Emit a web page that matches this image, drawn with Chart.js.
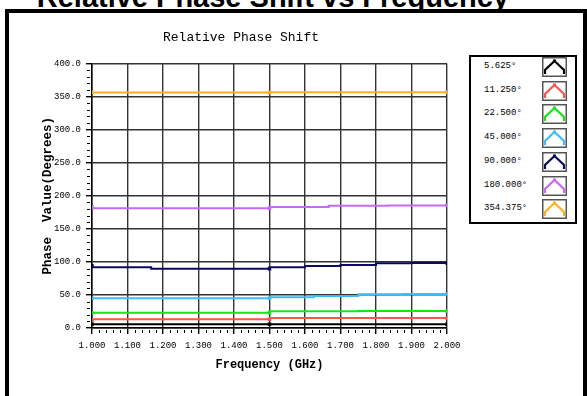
<!DOCTYPE html>
<html>
<head>
<meta charset="utf-8">
<script src="https://cdn.jsdelivr.net/npm/chart.js@4.4.1/dist/chart.umd.min.js"></script>
<style>
  body { margin: 0; background: #fff; width: 587px; height: 396px; overflow: hidden; position: relative; }
  #bigTitle { position: absolute; top: -17px; right: 78px; white-space: nowrap;
    font: bold 29px "Liberation Sans", Arial, sans-serif; line-height: 29px; color: #000; }
  #frame { position: absolute; left: 5px; top: 9px; width: 574px; height: 420px;
    border: 4px solid #000; }
  #chart { position: absolute; left: 0; top: 0; }
  #legend { position: absolute; left: 469px; top: 55px; width: 104px; height: 165px;
    border: 2px solid #000; background: #fff; }
  .row { position: absolute; left: 0; width: 104px; height: 20px; }
  .row span { position: absolute; left: 13px; top: 4px; font: 9px "Liberation Mono", monospace; color: #000; }
  .row svg { position: absolute; left: 71px; top: 0; }
</style>
</head>
<body>
<div id="bigTitle">Relative Phase Shift vs Frequency</div>
<div id="frame"></div>
<canvas id="chart" width="587" height="396"></canvas>
<div id="legend"></div>
<script>
// ===================================
// Relative Phase Shift vs Frequency
// ===================================

const seriesNames = ['5.625°', '11.250°', '22.500°', '45.000°', '90.000°', '180.000°', '354.375°'];
const seriesColors = ['#000000', '#ff5252', '#16e616', '#3cbdf8', '#0a0a62', '#c868f6', '#ffb022'];

// frequency (GHz) / phase (degrees) pairs
const freq5 = [1.0, 1.5, 2.0];
const phase5 = [5.6, 5.6, 5.8];
const freq11 = [1.0, 1.5, 2.0];
const phase11 = [11.0, 13.2, 15.0];
const freq22 = [1.0, 1.5, 1.75, 2.0];
const phase22 = [23.1, 23.1, 25.3, 25.6];
const freq45 = [1.0, 1.5, 1.625, 1.75, 1.875, 2.0];
const phase45 = [44.9, 44.9, 46.4, 48.4, 51.0, 51.4];
const freq90 = [1.0, 1.1667, 1.3333, 1.5, 1.6, 1.7, 1.8, 1.9, 2.0];
const phase90 = [94.2, 91.8, 89.7, 89.7, 91.8, 93.8, 95.3, 97.9, 98.2];
const freq180 = [1.0, 1.25, 1.5, 1.6667, 1.8333, 2.0];
const phase180 = [183.0, 181.0, 181.0, 183.0, 185.0, 185.5];
const freq354 = [1.0, 1.5, 2.0];
const phase354 = [356.5, 356.3, 356.5];

const freqSets = [freq5, freq11, freq22, freq45, freq90, freq180, freq354];
const phaseSets = [phase5, phase11, phase22, phase45, phase90, phase180, phase354];

// markers drawn only at these frequencies
const markerFreqs = [1.0, 1.5, 2.0];

// tick values
const xTicks = [1.0, 1.1, 1.2, 1.3, 1.4, 1.5, 1.6, 1.7, 1.8, 1.9, 2.0];
const yTicks = [0, 50, 100, 150, 200, 250, 300, 350, 400];

const monoFont = 'Liberation Mono';

// Minor tick marks (5 subdivisions between major ticks)
const minorTicks = {
    id: 'minorTicks',
    afterDraw: function(chart) {
        const ctx = chart.ctx;
        const x = chart.scales.x;
        const y = chart.scales.y;
        ctx.save();
        ctx.strokeStyle = '#000';
        ctx.lineWidth = 1;
        ctx.beginPath();
        for (let i = 0; i < yTicks.length - 1; i++) {
            for (let k = 1; k < 5; k++) {
                const v = yTicks[i] + (yTicks[i + 1] - yTicks[i]) * k / 5;
                const py = Math.round(y.getPixelForValue(v)) + 0.5;
                ctx.moveTo(y.right - 5, py);
                ctx.lineTo(y.right - 2, py);
            }
        }
        for (let i = 0; i < xTicks.length - 1; i++) {
            for (let k = 1; k < 5; k++) {
                const v = xTicks[i] + (xTicks[i + 1] - xTicks[i]) * k / 5;
                const px = Math.round(x.getPixelForValue(v)) + 0.5;
                ctx.moveTo(px, x.top + 2);
                ctx.lineTo(px, x.top + 5);
            }
        }
        ctx.stroke();
        ctx.restore();
    }
};

const datasets = seriesNames.map((name, i) => ({
    label: name,
    data: freqSets[i].map((f, j) => ({ x: f, y: phaseSets[i][j] })),
    borderColor: seriesColors[i],
    backgroundColor: seriesColors[i],
    borderWidth: 2,
    stepped: 'after',
    pointStyle: 'rect',
    pointRadius: ctx => markerFreqs.includes(ctx.raw.x) ? 2.5 : 0,
    pointBorderWidth: 0
}));

new Chart(document.getElementById('chart'), {
    type: 'line',
    data: { datasets: datasets },
    plugins: [minorTicks],
    options: {
        responsive: false,
        animation: false,
        layout: { padding: { left: 35, right: 140, top: 0, bottom: 0 } },
        plugins: {
            legend: { display: false },
            tooltip: { enabled: false },
            title: {
                display: true,
                text: 'Relative Phase Shift',
                color: '#000',
                font: { family: monoFont, size: 13, weight: 'normal' },
                padding: { top: 30, bottom: 18 }
            }
        },
        scales: {
            x: {
                type: 'linear',
                min: 1,
                max: 2,
                afterBuildTicks: s => { s.ticks = xTicks.map(v => ({ value: v })); },
                afterFit: s => { s.height = 68; },
                ticks: {
                    autoSkip: false,
                    maxRotation: 0,
                    padding: 6,
                    color: '#000',
                    font: { family: monoFont, size: 9 },
                    callback: v => v.toFixed(3)
                },
                grid: { color: '#333', lineWidth: 1.4, tickColor: '#000', tickLength: 6 },
                border: { color: '#000', width: 1.5 },
                title: {
                    display: true,
                    text: 'Frequency (GHz)',
                    color: '#000',
                    font: { family: monoFont, size: 12, weight: 'bold' },
                    padding: { top: 0, bottom: 24 }
                }
            },
            y: {
                min: 0,
                max: 400,
                afterBuildTicks: s => { s.ticks = yTicks.map(v => ({ value: v })); },
                afterFit: s => { s.width = 57; },
                ticks: {
                    padding: 5,
                    color: '#000',
                    font: { family: monoFont, size: 9 },
                    callback: v => v.toFixed(1)
                },
                grid: { color: '#333', lineWidth: 1.4, tickColor: '#000', tickLength: 6 },
                border: { color: '#000', width: 1.5 },
                title: {
                    display: true,
                    text: 'Phase  Value(Degrees)',
                    color: '#000',
                    font: { family: monoFont, size: 12.5, weight: 'bold' },
                    padding: { top: 5, bottom: 0 }
                }
            }
        }
    }
});

// HTML legend built from the series arrays
const legendEl = document.getElementById('legend');
seriesNames.forEach((name, i) => {
    const row = document.createElement('div');
    row.className = 'row';
    row.style.top = (i * 23.7) + 'px';
    const c = seriesColors[i];
    row.innerHTML = '<span>' + name + '</span>' +
        '<svg width="25" height="20"><rect x="0.75" y="0.75" width="23.5" height="18.5" fill="#fff" stroke="#555" stroke-width="1.5"/>' +
        '<polyline points="3,17 3,13 12.5,4 22,13 22,17" fill="none" stroke="' + c + '" stroke-width="2.2"/>' +
        '<rect x="11" y="2.5" width="3" height="3" fill="' + c + '"/></svg>';
    legendEl.appendChild(row);
});
</script>
</body>
</html>
